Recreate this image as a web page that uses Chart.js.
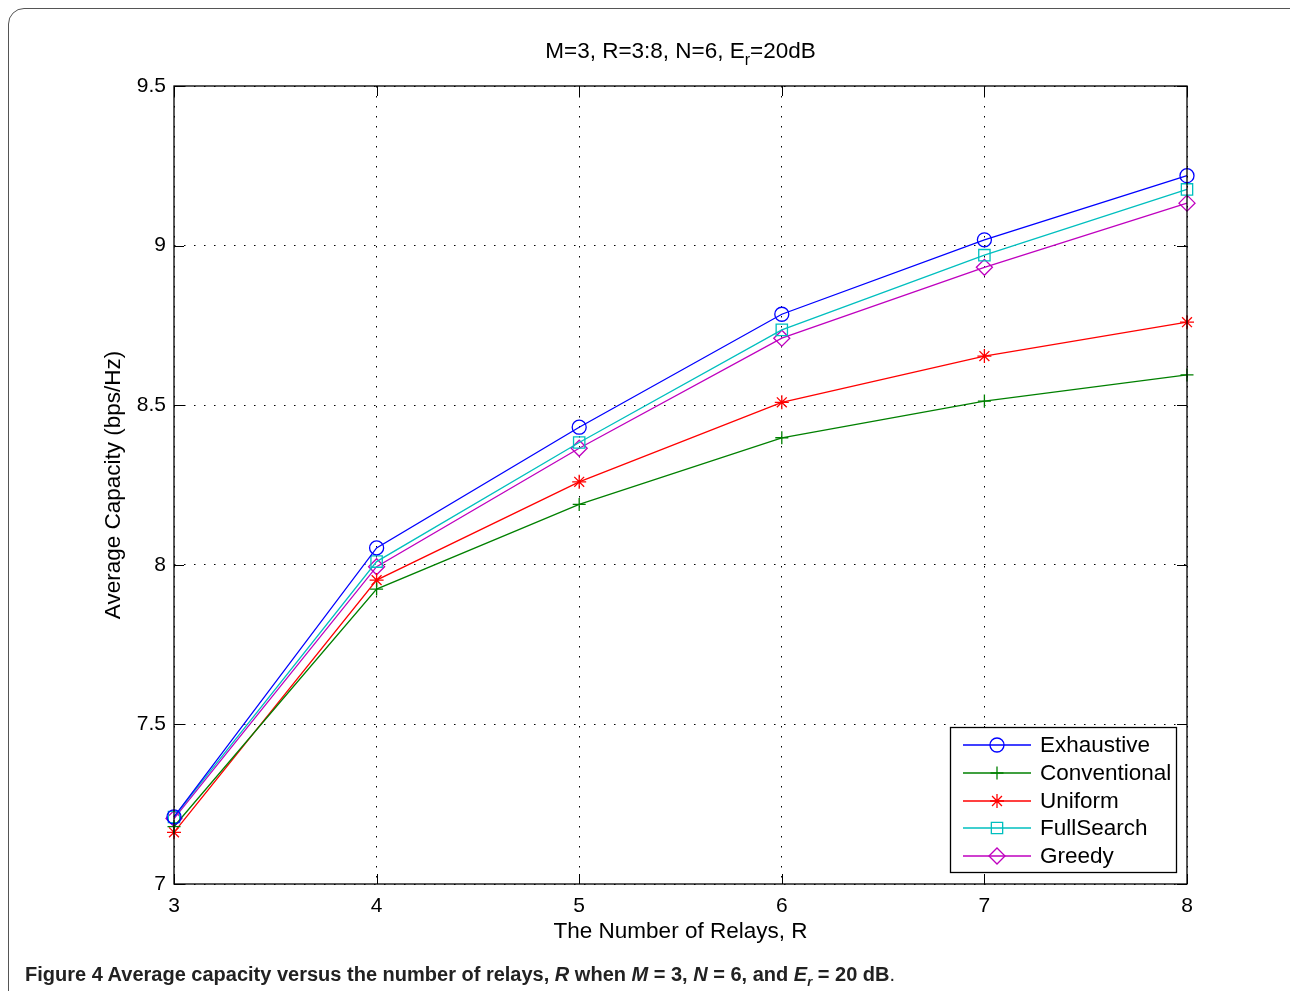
<!DOCTYPE html>
<html>
<head>
<meta charset="utf-8">
<script src="https://cdn.jsdelivr.net/npm/chart.js@4/dist/chart.umd.min.js"></script>
<style>
  html, body { margin:0; padding:0; background:#fff; width:1290px; height:991px; overflow:hidden; }
  #frame { position:absolute; left:8px; top:8px; width:1320px; height:1020px; border:1.5px solid #555; border-radius:16px; box-sizing:border-box; }
  #c { position:absolute; left:0; top:0; }
  #caption { position:absolute; left:25px; top:963px; font-family:"Liberation Sans Narrow","Liberation Sans",sans-serif; font-weight:bold; font-size:20px; color:#222; white-space:nowrap; }
  #caption i { font-style:italic; }
  #caption .reg { font-weight:normal; }
</style>
</head>
<body>
<div id="frame"></div>
<canvas id="c" width="1290" height="991"></canvas>
<div id="caption">Figure 4 Average capacity versus the number of relays, <i>R</i> when <i>M</i> = 3, <i>N</i> = 6, and <i>E<sub style="font-size:13px">r</sub></i> = 20 dB<span class="reg">.</span></div>
<script>
// ---- data ----
const relays = [3, 4, 5, 6, 7, 8];
const exhaustive   = [7.21, 8.053, 8.431, 8.785, 9.018, 9.219];
const conventional = [7.18, 7.924, 8.189, 8.398, 8.513, 8.595];
const uniform      = [7.162, 7.952, 8.260, 8.509, 8.654, 8.760];
const fullSearch   = [7.21, 8.010, 8.383, 8.736, 8.970, 9.176];
const greedy       = [7.205, 7.994, 8.365, 8.710, 8.932, 9.133];
const seriesNames  = ['Exhaustive', 'Conventional', 'Uniform', 'FullSearch', 'Greedy'];
const yTicks = [7, 7.5, 8, 8.5, 9, 9.5];
const xTicks = [3, 4, 5, 6, 7, 8];

const styles = [
  { color:'#0000ff', pointStyle:'circle',  radius:7 },
  { color:'#008000', pointStyle:'cross',   radius:6.5 },
  { color:'#ff0000', pointStyle:'star',    radius:7 },
  { color:'#00bfbf', pointStyle:'rect',    radius:8 },
  { color:'#bf00bf', pointStyle:'rectRot', radius:8 }
];
const allSeries = [exhaustive, conventional, uniform, fullSearch, greedy];

const datasets = allSeries.map((vals, i) => ({
  label: seriesNames[i],
  data: relays.map((x, j) => ({ x: x, y: vals[j] })),
  borderColor: styles[i].color,
  backgroundColor: 'transparent',
  borderWidth: 1.3,
  pointStyle: styles[i].pointStyle,
  pointRadius: styles[i].radius,
  pointBorderColor: styles[i].color,
  pointBackgroundColor: 'transparent',
  pointBorderWidth: 1.3,
  tension: 0,
  clip: false
}));

const FONT = '"Liberation Sans", Arial, sans-serif';

const decor = {
  id: 'decor',
  afterDraw(chart) {
    const ctx = chart.ctx;
    const a = chart.chartArea;
    const xs = chart.scales.x, ys = chart.scales.y;
    ctx.save();
    // box
    ctx.strokeStyle = '#000';
    ctx.lineWidth = 1.3;
    ctx.strokeRect(a.left, a.top, a.right - a.left, a.bottom - a.top);
    // inward ticks
    ctx.lineWidth = 1;
    ctx.beginPath();
    xTicks.forEach(v => {
      const p = Math.round(xs.getPixelForValue(v)) + 0.5;
      ctx.moveTo(p, a.bottom); ctx.lineTo(p, a.bottom - 10);
      ctx.moveTo(p, a.top); ctx.lineTo(p, a.top + 10);
    });
    yTicks.forEach(v => {
      const p = Math.round(ys.getPixelForValue(v)) + 0.5;
      ctx.moveTo(a.left, p); ctx.lineTo(a.left + 10, p);
      ctx.moveTo(a.right, p); ctx.lineTo(a.right - 10, p);
    });
    ctx.stroke();

    // title with subscript
    ctx.fillStyle = '#000';
    const F = '22.5px ' + FONT, FS = '16px ' + FONT;
    ctx.font = F;
    ctx.textBaseline = 'alphabetic';
    const t1 = 'M=3, R=3:8, N=6, E', tsub = 'r', t2 = '=20dB';
    const w1 = ctx.measureText(t1).width, w2 = ctx.measureText(t2).width;
    ctx.font = FS;
    const ws = ctx.measureText(tsub).width;
    let x0 = (a.left + a.right) / 2 - (w1 + ws + w2) / 2;
    const by = 58;
    ctx.font = F;
    ctx.textAlign = 'left';
    ctx.fillText(t1, x0, by);
    ctx.font = FS;
    ctx.fillText(tsub, x0 + w1, by + 7);
    ctx.font = F;
    ctx.fillText(t2, x0 + w1 + ws, by);

    // x axis title
    ctx.textAlign = 'center';
    ctx.textBaseline = 'middle';
    ctx.fillText('The Number of Relays, R', (a.left + a.right) / 2, 932);
    // y axis title
    ctx.save();
    ctx.translate(114, (a.top + a.bottom) / 2);
    ctx.rotate(-Math.PI / 2);
    ctx.fillText('Average Capacity (bps/Hz)', 0, 0);
    ctx.restore();

    // legend
    const lx = 950.5, ly = 727.5, lw = 226, lh = 145;
    ctx.fillStyle = '#fff';
    ctx.fillRect(lx, ly, lw, lh);
    ctx.strokeStyle = '#000';
    ctx.lineWidth = 1.3;
    ctx.strokeRect(lx, ly, lw, lh);
    const rows = [745, 773, 801, 828, 856];
    seriesNames.forEach((name, i) => {
      const y = rows[i];
      const s = styles[i];
      ctx.strokeStyle = s.color;
      ctx.lineWidth = 1.3;
      ctx.beginPath();
      ctx.moveTo(963, y); ctx.lineTo(1031, y);
      ctx.stroke();
      const opts = { pointStyle: s.pointStyle, radius: s.radius, borderWidth: 1.3, rotation: 0 };
      if (Chart.helpers && Chart.helpers.drawPoint) {
        ctx.strokeStyle = s.color;
        ctx.fillStyle = 'rgba(0,0,0,0)';
        Chart.helpers.drawPoint(ctx, opts, 997, y);
      }
      ctx.fillStyle = '#000';
      ctx.font = F;
      ctx.textAlign = 'left';
      ctx.textBaseline = 'middle';
      ctx.fillText(name, 1040, y + 1);
    });
    ctx.restore();
  }
};

new Chart(document.getElementById('c'), {
  type: 'line',
  data: { datasets },
  options: {
    responsive: false,
    animation: false,
    layout: { padding: { left: 0, top: 86, right: 103, bottom: 0 } },
    plugins: { legend: { display: false }, title: { display: false }, tooltip: { enabled: false } },
    scales: {
      x: {
        type: 'linear', min: 3, max: 8,
        afterBuildTicks: (s) => { s.ticks = xTicks.map(v => ({ value: v })); },
        afterFit: (s) => { s.height = 107; s.paddingLeft = 0; s.paddingRight = 0; },
        ticks: { color: '#000', font: { size: 21, family: FONT }, padding: 10, maxRotation: 0, callback: (v) => String(v) },
        grid: { color: '#000', lineWidth: 1, drawTicks: false },
        border: { display: false, dash: [1.5, 8.5] }
      },
      y: {
        type: 'linear', min: 7, max: 9.5,
        afterBuildTicks: (s) => { s.ticks = yTicks.map(v => ({ value: v })); },
        afterFit: (s) => { s.width = 174; s.paddingTop = 0; s.paddingBottom = 0; },
        ticks: { color: '#000', font: { size: 21, family: FONT }, padding: 8, callback: (v) => String(v) },
        grid: { color: '#000', lineWidth: 1, drawTicks: false },
        border: { display: false, dash: [1.5, 8.5] }
      }
    }
  },
  plugins: [decor]
});
</script>
</body>
</html>
